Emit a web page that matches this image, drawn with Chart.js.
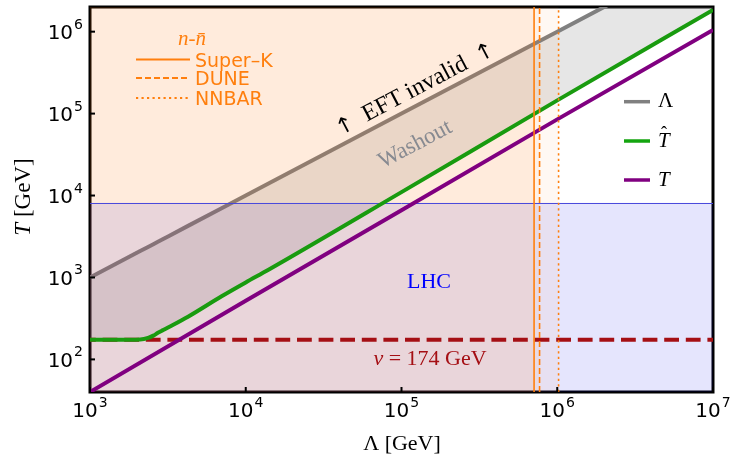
<!DOCTYPE html>
<html>
<head>
<meta charset="utf-8">
<script src="https://cdn.jsdelivr.net/npm/chart.js@4.4.1/dist/chart.umd.min.js"></script>
<style>
  html, body { margin: 0; padding: 0; background: #fff; }
</style>
</head>
<body>
<canvas id="grafico" width="732" height="460"></canvas>
<script>
// valores (GeV)
const lambdaGeV = [1e3, 1.8e3, 2.1e3, 2.36e3, 2.55e3, 2.73e3, 2.95e3, 3.17e3, 4.26e3, 7e3, 1e4, 1.4e4, 1e5, 1e6, 1e7];
const tHatGeV = [174, 174, 175, 183, 195, 211, 228, 245, 332, 590, 870, 1240, 1.1e4, 1.45e5, 1.84e6];
const diagGeV = [1e3, 1.8e3, 2.1e3, 2.36e3, 2.55e3, 2.73e3, 2.95e3, 3.17e3, 4.26e3, 7e3, 1e4, 1.4e4, 1e5, 1e6, 1e7]; // Λ = T
const lambdaDecadas = [1e3, 1e4, 1e5, 1e6, 1e7];
const tPlasmaGeV = [40, 520, 6.6e3, 8.5e4, 1.05e6];

const superK = 7.1e5;
const dune = 7.7e5;
const nnbar = 1.02e6;
const lhcT = 8e3;
const vev = 174;

const xTicks = [1e3, 1e4, 1e5, 1e6, 1e7];
const yTicks = [1e2, 1e3, 1e4, 1e5, 1e6];
const xRange = [1e3, 1e7];
const yRange = [40, 2e6];

const naranja = "#ff7f0e";
const pts = (xs, ys) => xs.map((x, i) => ({ x: x, y: ys[i] }));

// etiquetas tipo 10^n
function potencia(ctx, exp, x, y, modo) {
  ctx.font = '20px "DejaVu Sans"';
  const wb = ctx.measureText("10").width;
  ctx.font = '14px "DejaVu Sans"';
  const we = ctx.measureText(String(exp)).width;
  const total = wb + we + 1;
  let left, base;
  if (modo === "x") { left = x - total / 2; base = y; }
  else { left = x - total; base = y + 7.5; }
  ctx.textAlign = "left";
  ctx.textBaseline = "alphabetic";
  ctx.fillStyle = "#000";
  ctx.font = '20px "DejaVu Sans"';
  ctx.fillText("10", left, base);
  ctx.font = '14px "DejaVu Sans"';
  ctx.fillText(String(exp), left + wb + 1, base - 10.5);
}

// texto en trozos con fuentes distintas, centrado en (0,0)
function trozos(ctx, partes) {
  let total = 0;
  partes.forEach(p => { ctx.font = p[1]; p.w = ctx.measureText(p[0]).width; total += p.w; });
  let x = -total / 2;
  ctx.textAlign = "left";
  partes.forEach(p => { ctx.font = p[1]; ctx.fillText(p[0], x, 0); x += p.w; });
}

const marco = {
  id: "marco",
  beforeDatasetsDraw(chart) {
    const a = chart.chartArea, ctx = chart.ctx;
    ctx.save();
    ctx.strokeStyle = "#000";
    ctx.lineWidth = 3;
    ctx.strokeRect(a.left, a.top, a.right - a.left, a.bottom - a.top);
    ctx.restore();
  },
  afterDraw(chart) {
    const ctx = chart.ctx, a = chart.chartArea;
    const sx = chart.scales.x, sy = chart.scales.y;
    ctx.save();
    // ticks hacia dentro
    ctx.strokeStyle = "#000";
    ctx.lineWidth = 2;
    xTicks.forEach(v => {
      const px = sx.getPixelForValue(v);
      ctx.beginPath(); ctx.moveTo(px, a.bottom); ctx.lineTo(px, a.bottom - 5); ctx.stroke();
      potencia(ctx, Math.round(Math.log10(v)), px, 417, "x");
    });
    yTicks.forEach(v => {
      const py = sy.getPixelForValue(v);
      ctx.beginPath(); ctx.moveTo(a.left, py); ctx.lineTo(a.left + 5, py); ctx.stroke();
      potencia(ctx, Math.round(Math.log10(v)), 83, py, "y");
    });

    // titulos de ejes
    ctx.fillStyle = "#000";
    ctx.textBaseline = "alphabetic";
    ctx.save();
    ctx.translate(402, 450);
    trozos(ctx, [["Λ [GeV]", '22px "Liberation Serif"']]);
    ctx.restore();
    ctx.save();
    ctx.translate(30, 197);
    ctx.rotate(-Math.PI / 2);
    trozos(ctx, [["T", 'italic 23px "Liberation Serif"'], [" [GeV]", '23px "Liberation Serif"']]);
    ctx.restore();

    // textos inclinados
    const ang = -Math.atan2(sy.getPixelForValue(1e3) - sy.getPixelForValue(1e4),
                            sx.getPixelForValue(1e4) - sx.getPixelForValue(1e3));
    ctx.save();
    ctx.translate(418, 95);
    ctx.rotate(ang);
    ctx.fillStyle = "#000";
    trozos(ctx, [["↑", '22px "DejaVu Sans"'], ["  EFT invalid  ", '24px "Liberation Serif"'], ["↑", '22px "DejaVu Sans"']]);
    ctx.restore();
    ctx.save();
    ctx.translate(418, 150);
    ctx.rotate(ang);
    ctx.fillStyle = "rgb(135,138,145)";
    trozos(ctx, [["Washout", '23px "Liberation Serif"']]);
    ctx.restore();

    ctx.save();
    ctx.translate(429, 288);
    ctx.fillStyle = "#0000ff";
    trozos(ctx, [["LHC", '22px "Liberation Serif"']]);
    ctx.restore();

    ctx.save();
    ctx.translate(430, 365);
    ctx.fillStyle = "rgb(165,15,20)";
    trozos(ctx, [["v", 'italic 22px "Liberation Serif"'], [" = 174 GeV", '22px "Liberation Serif"']]);
    ctx.restore();

    // leyenda n-nbar
    ctx.fillStyle = naranja;
    ctx.strokeStyle = naranja;
    ctx.save();
    ctx.translate(192, 45);
    trozos(ctx, [["n", 'italic 21px "Liberation Serif"'], ["-", '21px "Liberation Serif"'], ["n̄", 'italic 21px "Liberation Serif"']]);
    ctx.restore();
    const filas = [["Super–K", [], 59.5, 66.5], ["DUNE", [6, 3], 78, 84.5], ["NNBAR", [2.2, 3.3], 98, 104.5]];
    ctx.lineWidth = 2;
    ctx.textAlign = "left";
    ctx.font = '19px "DejaVu Sans"';
    filas.forEach(f => {
      ctx.setLineDash(f[1]);
      ctx.beginPath(); ctx.moveTo(136, f[2]); ctx.lineTo(190, f[2]); ctx.stroke();
      ctx.fillText(f[0], 195, f[3]);
    });
    ctx.setLineDash([]);

    // leyenda derecha
    const der = [["gray", 101.7, 107], ["rgb(20,165,15)", 141, 146.5], ["purple", 180, 186]];
    ctx.lineWidth = 3.5;
    der.forEach(d => {
      ctx.strokeStyle = d[0];
      ctx.beginPath(); ctx.moveTo(624, d[1]); ctx.lineTo(650, d[1]); ctx.stroke();
    });
    ctx.fillStyle = "#000";
    ctx.textAlign = "left";
    ctx.font = '21px "Liberation Serif"';
    ctx.fillText("Λ", 658, 107);
    ctx.font = 'italic 21px "Liberation Serif"';
    ctx.fillText("T", 658, 146.5);
    ctx.fillText("T", 658, 186);
    ctx.font = '18px "Liberation Serif"';
    ctx.fillText("ˆ", 661, 139);
    ctx.restore();
  }
};

const lineaV = (x) => [{ x: x, y: yRange[0] }, { x: x, y: yRange[1] }];
const bandaX = (x) => [{ x: xRange[0], y: yRange[1] }, { x: x, y: yRange[1] }];

const config = {
  type: "scatter",
  data: {
    datasets: [
      { data: lineaV(superK), borderColor: naranja, borderWidth: 1.6, showLine: true },
      { data: lineaV(dune), borderColor: naranja, borderWidth: 1.6, borderDash: [6, 3], showLine: true },
      { data: lineaV(nnbar), borderColor: naranja, borderWidth: 1.6, borderDash: [2.2, 3.3], showLine: true },
      { data: pts(lambdaDecadas, tPlasmaGeV), borderColor: "purple", borderWidth: 4, showLine: true },
      { data: pts(lambdaGeV, tHatGeV), borderColor: "rgb(25,155,15)", borderWidth: 4, showLine: true, cubicInterpolationMode: "monotone" },
      { data: [{ x: xRange[0], y: vev }, { x: xRange[1], y: vev }], borderColor: "rgb(165,15,20)", borderWidth: 4,
        borderDash: [14.8, 6.8], borderDashOffset: 9, showLine: true },
      { data: [{ x: xRange[0], y: lhcT }, { x: xRange[1], y: lhcT }], borderColor: "rgb(70,70,220)", borderWidth: 1, showLine: true },
      { data: bandaX(superK), borderWidth: 0, backgroundColor: "rgba(255,127,14,0.05)", fill: "start", showLine: true },
      { data: bandaX(dune), borderWidth: 0, backgroundColor: "rgba(255,127,14,0.05)", fill: "start", showLine: true },
      { data: bandaX(nnbar), borderWidth: 0, backgroundColor: "rgba(255,127,14,0.05)", fill: "start", showLine: true },
      { data: [{ x: xRange[0], y: lhcT }, { x: xRange[1], y: lhcT }], borderWidth: 0,
        backgroundColor: "rgba(0,0,235,0.1)", fill: "start", showLine: true },
      { data: pts(lambdaGeV, diagGeV), borderColor: "rgb(128,128,128)", borderWidth: 4,
        backgroundColor: "rgba(128,128,128,0.2)", fill: 4, showLine: true }
    ]
  },
  options: {
    responsive: false,
    devicePixelRatio: 1,
    animation: false,
    layout: { padding: { left: 90, right: 19, top: 7, bottom: 68 } },
    elements: { point: { radius: 0, hoverRadius: 0 }, line: { tension: 0 } },
    datasets: { scatter: { clip: 0 } },
    plugins: { legend: { display: false }, tooltip: { enabled: false } },
    scales: {
      x: { type: "logarithmic", min: xRange[0], max: xRange[1], display: false },
      y: { type: "logarithmic", min: yRange[0], max: yRange[1], display: false }
    }
  },
  plugins: [marco]
};

window.miGrafico = new Chart(document.getElementById("grafico"), config);
</script>
</body>
</html>
